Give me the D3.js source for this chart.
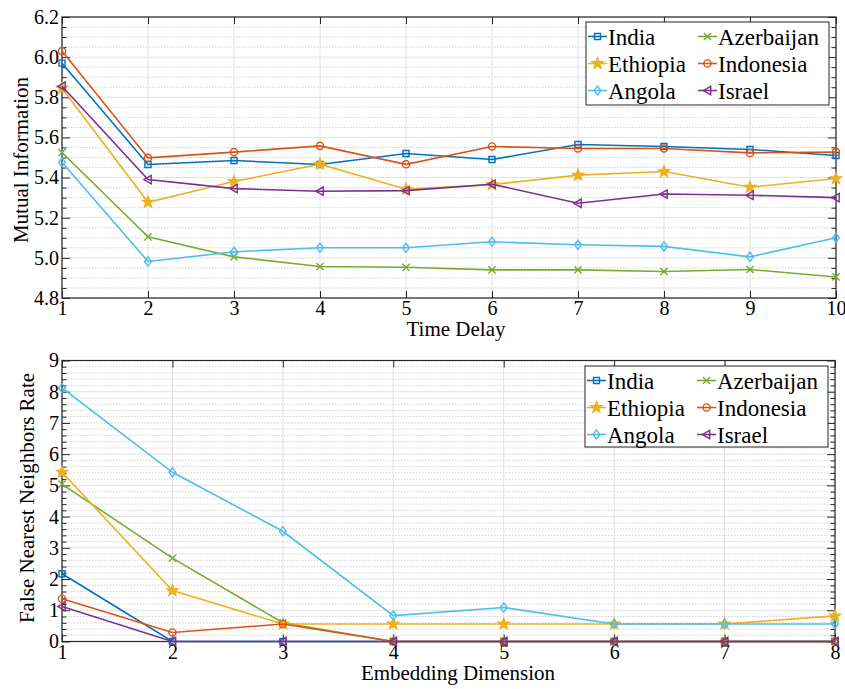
<!DOCTYPE html>
<html>
<head>
<meta charset="utf-8">
<script src="https://cdn.jsdelivr.net/npm/d3@7"></script>
<style>
  body { margin: 0; background: #fff; }
  .minor { stroke: #d2d2d2; stroke-width: 1; stroke-dasharray: 1.5 1.5; }
  .major { stroke: #e2e2e2; stroke-width: 1; }
  .frame { stroke: #262626; stroke-width: 1.2; fill: none; }
</style>
</head>
<body>
<svg id="chart" width="845" height="689"></svg>
<script>
// series order as in the legend (row-wise, two columns)
const countries = ["India", "Azerbaijan", "Ethiopia", "Indonesia", "Angola", "Israel"];
const colors = ["#0072BD", "#77AC30", "#EDB120", "#D95319", "#4DBEEE", "#7E2F8E"];
const markers = ["square", "x", "star", "circle", "diamond", "triangleLeft"];

// top panel: mutual information vs time delay
const delays = [1, 2, 3, 4, 5, 6, 7, 8, 9, 10];
const miIndia      = [5.97, 5.465, 5.485, 5.465, 5.52, 5.49, 5.565, 5.555, 5.54, 5.51];
const miAzerbaijan = [5.525, 5.105, 5.005, 4.957, 4.953, 4.94, 4.94, 4.932, 4.942, 4.905];
const miEthiopia   = [5.845, 5.277, 5.38, 5.467, 5.342, 5.365, 5.412, 5.43, 5.352, 5.395];
const miIndonesia  = [6.03, 5.498, 5.527, 5.558, 5.466, 5.555, 5.545, 5.545, 5.523, 5.527];
const miAngola     = [5.476, 4.982, 5.03, 5.05, 5.05, 5.08, 5.065, 5.057, 5.005, 5.1];
const miIsrael     = [5.855, 5.39, 5.345, 5.332, 5.335, 5.367, 5.272, 5.318, 5.312, 5.3];
const miTicks = [4.8, 5.0, 5.2, 5.4, 5.6, 5.8, 6.0, 6.2];

// bottom panel: false nearest neighbors rate vs embedding dimension
const dims = [1, 2, 3, 4, 5, 6, 7, 8];
const fnnIndia      = [2.17, 0, 0, 0, 0, 0, 0, 0];
const fnnAzerbaijan = [5.04, 2.67, 0.6, 0, 0, 0, 0, 0];
const fnnEthiopia   = [5.42, 1.63, 0.56, 0.56, 0.56, 0.56, 0.56, 0.82];
const fnnIndonesia  = [1.37, 0.29, 0.56, 0, 0, 0, 0, 0];
const fnnAngola     = [8.12, 5.42, 3.53, 0.83, 1.09, 0.56, 0.56, 0.56];
const fnnIsrael     = [1.12, 0, 0, 0, 0, 0, 0, 0];
const fnnTicks = [0, 1, 2, 3, 4, 5, 6, 7, 8, 9];

const svg = d3.select("#chart");

function label(sel, size) {
    return sel.attr("font-family", "Liberation Serif").attr("font-size", size).attr("fill", "#000");
}

function markerPath(type) {
    switch (type) {
        case "square": return "M-3,-3H3V3H-3Z";
        case "circle": return "M3.6,0A3.6,3.6 0 1,1 -3.6,0A3.6,3.6 0 1,1 3.6,0Z";
        case "diamond": return "M0,-4.6L3.4,0L0,4.6L-3.4,0Z";
        case "triangleLeft": return "M-4.2,0L3.2,-4.2L3.2,4.2Z";
        case "x": return "M-3.6,-3.6L3.6,3.6M-3.6,3.6L3.6,-3.6";
        case "star": {
            let pts = [];
            for (let i = 0; i < 10; i++) {
                let r = i % 2 == 0 ? 5.8 : 2.4;
                let a = -Math.PI / 2 + i * Math.PI / 5;
                pts.push([r * Math.cos(a), r * Math.sin(a)]);
            }
            return "M" + pts.map(p => p.join(",")).join("L") + "Z";
        }
    }
}

function drawMarker(g, type, color, x, y) {
    g.append("path")
        .attr("d", markerPath(type))
        .attr("transform", `translate(${x},${y})`)
        .attr("fill", type == "star" ? color : "none")
        .attr("stroke", color)
        .attr("stroke-width", 1.4);
}

function panel(opt) {
    const x = d3.scaleLinear().domain(opt.xDomain).range([opt.left, opt.right]);
    const y = d3.scaleLinear().domain(opt.yDomain).range([opt.bottom, opt.top]);
    const g = svg.append("g");

    // minor horizontal grid
    const minors = d3.range(opt.yDomain[0], opt.yDomain[1] + 1e-9, opt.minorStep)
        .filter(v => !opt.yTicks.some(t => Math.abs(t - v) < 1e-6));
    g.selectAll(".minor").data(minors).enter().append("line")
        .attr("class", "minor")
        .attr("x1", opt.left).attr("x2", opt.right)
        .attr("y1", d => y(d)).attr("y2", d => y(d));

    // major grid
    g.selectAll(".hmaj").data(opt.yTicks).enter().append("line")
        .attr("class", "major")
        .attr("x1", opt.left).attr("x2", opt.right)
        .attr("y1", d => y(d)).attr("y2", d => y(d));
    g.selectAll(".vmaj").data(opt.xValues).enter().append("line")
        .attr("class", "major")
        .attr("x1", d => x(d)).attr("x2", d => x(d))
        .attr("y1", opt.top).attr("y2", opt.bottom);

    // axes with inward ticks on all sides
    const ax = g.append("g").attr("color", "#262626");
    ax.append("g").attr("transform", `translate(0,${opt.bottom})`)
        .call(d3.axisBottom(x).tickValues(opt.xValues).tickSize(-7).tickPadding(3).tickFormat(d3.format("d")));
    ax.append("g").attr("transform", `translate(0,${opt.top})`)
        .call(d3.axisTop(x).tickValues(opt.xValues).tickSize(-7).tickFormat(""));
    ax.append("g").attr("transform", `translate(${opt.left},0)`)
        .call(d3.axisLeft(y).tickValues(opt.yTicks).tickSize(-8).tickPadding(3).tickFormat(opt.yFormat));
    ax.append("g").attr("transform", `translate(${opt.right},0)`)
        .call(d3.axisRight(y).tickValues(opt.yTicks).tickSize(-8).tickFormat(""));
    ax.append("g").attr("transform", `translate(${opt.left},0)`)
        .call(d3.axisLeft(y).tickValues(minors).tickSize(-4.5).tickFormat(""));
    ax.append("g").attr("transform", `translate(${opt.right},0)`)
        .call(d3.axisRight(y).tickValues(minors).tickSize(-4.5).tickFormat(""));
    ax.selectAll(".domain").remove();
    ax.selectAll("g").attr("font-family", null).attr("font-size", null);
    ax.selectAll(".tick line").attr("stroke-width", 1);
    label(ax.selectAll("text"), 20);

    g.append("rect").attr("class", "frame")
        .attr("x", opt.left).attr("y", opt.top)
        .attr("width", opt.right - opt.left).attr("height", opt.bottom - opt.top);

    // series
    const line = d3.line().x((d, i) => x(opt.xValues[i])).y(d => y(d));
    opt.series.forEach((s, k) => {
        g.append("path").datum(s)
            .attr("d", line)
            .attr("fill", "none")
            .attr("stroke", colors[k])
            .attr("stroke-width", 1.6);
        s.forEach((v, i) => drawMarker(g, markers[k], colors[k], x(opt.xValues[i]), y(v)));
    });

    // axis labels
    label(g.append("text"), 21)
        .attr("x", opt.xLabelX).attr("y", opt.xLabelY)
        .attr("text-anchor", "middle")
        .text(opt.xLabel);
    label(g.append("text"), 21)
        .attr("transform", `translate(${opt.yLabelX},${opt.yLabelY}) rotate(-90)`)
        .attr("text-anchor", "middle")
        .text(opt.yLabel);

    // legend
    const lg = g.append("g");
    lg.append("rect")
        .attr("x", opt.legend.x).attr("y", opt.legend.y)
        .attr("width", opt.legend.w).attr("height", opt.legend.h)
        .attr("fill", "#fff").attr("stroke", "#262626").attr("stroke-width", 1);
    countries.forEach((c, k) => {
        const col = k % 2, row = Math.floor(k / 2);
        const lx = opt.legend.x + 2 + col * 110;
        const ly = opt.legend.y + 14.5 + row * 27;
        lg.append("line")
            .attr("x1", lx).attr("x2", lx + 19)
            .attr("y1", ly).attr("y2", ly)
            .attr("stroke", colors[k]).attr("stroke-width", 1.6);
        drawMarker(lg, markers[k], colors[k], lx + 9.5, ly);
        label(lg.append("text"), 23)
            .attr("x", lx + 20).attr("y", ly + 8)
            .text(c);
    });
}

panel({
    xDomain: [1, 10], yDomain: [4.8, 6.2],
    left: 62, right: 836, top: 17, bottom: 298,
    xValues: delays, yTicks: miTicks, minorStep: 0.05,
    yFormat: d3.format(".1f"),
    series: [miIndia, miAzerbaijan, miEthiopia, miIndonesia, miAngola, miIsrael],
    xLabel: "Time Delay", xLabelX: 456, xLabelY: 336,
    yLabel: "Mutual Information", yLabelX: 28, yLabelY: 160,
    legend: {x: 586, y: 22, w: 243, h: 83}
});

panel({
    xDomain: [1, 8], yDomain: [0, 9],
    left: 62, right: 835, top: 360.5, bottom: 641.5,
    xValues: dims, yTicks: fnnTicks, minorStep: 0.2,
    yFormat: d3.format("d"),
    series: [fnnIndia, fnnAzerbaijan, fnnEthiopia, fnnIndonesia, fnnAngola, fnnIsrael],
    xLabel: "Embedding Dimension", xLabelX: 458, xLabelY: 680,
    yLabel: "False Nearest Neighbors Rate", yLabelX: 34, yLabelY: 498,
    legend: {x: 585, y: 366, w: 243, h: 81}
});
</script>
</body>
</html>
